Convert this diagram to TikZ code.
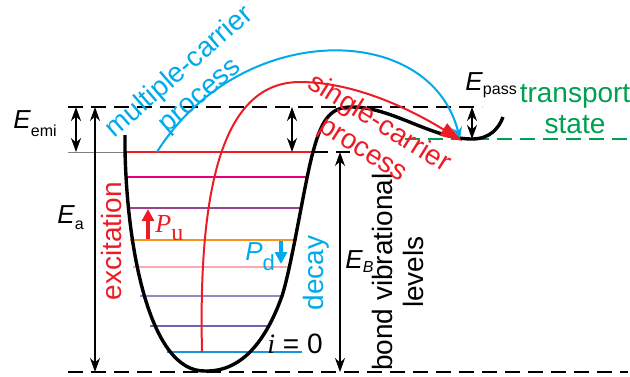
\documentclass[tikz,border=0pt]{standalone}
\usepackage{fontspec}
\setmainfont{Liberation Sans}
\newfontfamily\timesfont{Liberation Serif}
\usetikzlibrary{
    arrows.meta,
    calc
}
\definecolor{lvred}{RGB}{237,28,36}
\definecolor{lvmag}{RGB}{230,0,126}
\definecolor{lvpur}{RGB}{150,70,145}
\definecolor{lvora}{RGB}{247,148,29}
\definecolor{lvpink}{RGB}{245,170,178}
\definecolor{lvlav}{RGB}{145,135,195}
\definecolor{lvvio}{RGB}{112,100,172}
\definecolor{lvblue}{RGB}{20,150,215}
\definecolor{procblue}{RGB}{0,170,235}
\definecolor{trgreen}{RGB}{0,160,80}
\newcommand{\Elab}[2]{\textit{E}\raisebox{#2}{\fontsize{8}{8}\selectfont #1}}
\tikzset{
  well/.style={black, line width=1.7pt, line join=round},
  level/.style={line width=1.3pt},
  gap/.style={<->, >={Stealth[length=7pt,width=5pt]}, line width=1pt},
  thingap/.style={gap, line width=0.6pt},
  refline/.style={dash pattern=on 7.5pt off 4pt, line width=1pt},
  lbl/.style={font=\fontsize{14}{15.5}\selectfont, inner sep=0pt, align=center},
  elbl/.style={font=\fontsize{13}{14}\selectfont, inner sep=0pt, anchor=base west}
}

\begin{document}
\begin{tikzpicture}[x=0.5pt,y=-0.5pt]
    \useasboundingbox (0,0) rectangle (630,376);

    % reference points
    \coordinate (top) at (68,107);
    \coordinate (bottom) at (68,372);
    \coordinate (ground) at (202,352);
    \coordinate (emit) at (157,152);
    \coordinate (trap) at (460,139);

    % reference lines
    \draw[refline] (top) -- (482,107);
    \draw[refline] (bottom) -- (628,372);
    \draw[refline, trgreen] (405,139) -- (630,139);
    \draw[gray, line width=0.4pt] (68,152) -- (125,152);
    \draw[refline] (313,152) -- (350,152);

    % vibrational levels
    \foreach \y/\xa/\xb/\c in {152/125/313/lvred, 177/127/307/lvmag,
        208/128/302/lvpur, 240/130/297/lvora, 267/133/290/lvpink,
        296/140/283/lvlav, 326/150/269/lvvio, 352/167/302/lvblue}
        \draw[level, \c] (\xa,\y) -- (\xb,\y);

    % potential well
    \draw[well] (125,135) -- (125,150)
        .. controls (127,250) and (150,372) .. (205,371)
        .. controls (245,372) and (268,335) .. (282,296)
        .. controls (292,265) and (305,180) .. (313,152)
        .. controls (322,118) and (331,107) .. (352,107)
        .. controls (392,107) and (432,139) .. (472,139)
        .. controls (490,139) and (499,128) .. (503,117);

    % energy gaps
    \draw[gap] (76,107) -- (76,152);
    \draw[thingap] (95,107) -- (95,372);
    \draw[gap] (292,107) -- (292,152);
    \draw[thingap] (340,152) -- (340,372);
    \draw[gap] (472,107) -- (472,139);

    % processes
    \draw[procblue, line width=1pt, -{Stealth[length=6pt,width=5pt]}]
        (emit) .. controls (240,20) and (430,20) .. (trap);
    \draw[lvred, line width=1pt, -{Triangle[length=11pt,width=7pt]}]
        (ground) .. controls (198,180) and (225,82) .. (300,82)
        .. controls (360,82) and (420,115) .. (462,141);

    % transitions
    \draw[lvred, line width=2pt, -{Triangle[length=6pt,width=6pt]}] (148,239) -- (148,209);
    \draw[procblue, line width=2pt, -{Triangle[length=6pt,width=6pt]}] (281,241) -- (281,264);

    % labels
    \node[elbl] (eemi) at (13,128) {\Elab{emi}{-4pt}};
    \node[elbl] (ea) at (57,223) {\Elab{a}{-3pt}};
    \node[elbl] (eb) at (345,268) {\Elab{\textit{B}}{-2pt}};
    \node[elbl] (epass) at (465,90) {\Elab{pass}{-2pt}};
    \node[lbl, lvred, rotate=90] (exc) at (111,241) {excitation};
    \node[lbl, procblue, rotate=90] (dec) at (316,273) {decay};
    \node[lbl, rotate=90] (bond) at (398,272) {bond vibrational\\levels};
    \node[lbl, procblue, rotate=41] (multi) at (190,84) {multiple-carrier\\process};
    \node[lbl, lvred, rotate=-32] (single) at (371,137) {single-carrier\\process};
    \node[lbl, trgreen] (trans) at (575,109) {transport\\state};
    \node[elbl, lvred] (pu) at (155,232) {{\timesfont\itshape P}\raisebox{-4pt}{\timesfont\fontsize{12}{12}\selectfont u}};
    \node[elbl, procblue] (pd) at (245,260) {\textit{P}\raisebox{-5pt}{\fontsize{11}{11}\selectfont d}};
    \node[elbl, font=\fontsize{14}{16}\selectfont] (i0) at (267,353) {{\timesfont\itshape i} = 0};
\end{tikzpicture}
\end{document}
